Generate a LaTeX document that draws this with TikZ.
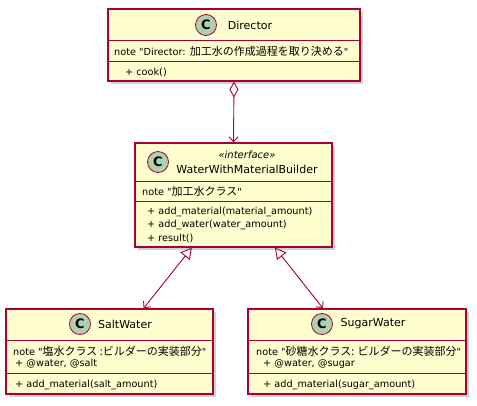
\documentclass[tikz,border=0pt]{standalone}
\usepackage{fontspec}
\setmainfont{DejaVu Sans}[Ligatures=TeXOff]
\newfontfamily\jp{Noto Sans CJK JP}[Ligatures=TeXOff]
\newcommand\ja[1]{{\jp\fontsize{11}{12}\selectfont #1}}
\usepackage{tikz}
\usetikzlibrary{shadows,arrows.meta}
\definecolor{umlfill}{HTML}{FEFECE}
\definecolor{umlline}{HTML}{A80036}
\definecolor{umlcirc}{HTML}{ADD1B2}
\tikzset{>=stealth}
\tikzset{
  classbox/.style={draw=umlline,fill=umlfill,line width=1.2pt,inner sep=0pt,
    drop shadow={shadow xshift=3pt,shadow yshift=-3pt,opacity=0.3,fill=black!60}},
  sepline/.style={umlline,line width=1pt},
  badge/.style={circle,draw=umlline,fill=umlcirc,line width=0.8pt,minimum size=21pt,inner sep=0pt,
    font=\fontsize{13}{13}\selectfont\bfseries},
  classname/.style={inner sep=0pt,font=\fontsize{11}{13}\selectfont},
  member/.style={anchor=west,inner sep=0pt,font=\fontsize{9.7}{12}\selectfont},
  link/.style={umlline,line width=0.9pt}
}

\begin{document}
\begin{tikzpicture}[x=1pt,y=-1pt]
  \useasboundingbox (0,0) rectangle (477,405);

  % class boxes
  \node[classbox,minimum width=252pt,minimum height=72pt] (director) at (234,45) {};
  \node[classbox,minimum width=197pt,minimum height=104pt] (builder) at (233.5,195) {};
  \node[classbox,minimum width=207pt,minimum height=85pt] (salt) at (109.5,351.5) {};
  \node[classbox,minimum width=218pt,minimum height=85pt] (sugar) at (357,351.5) {};

  % compartments
  \draw[sepline] (108,40) -- (360,40) (108,61) -- (360,61);
  \draw[sepline] (135,181) -- (332,181) (135,201) -- (332,201);
  \draw[sepline] (6,340) -- (213,340) (6,373) -- (213,373);
  \draw[sepline] (248,340) -- (466,340) (248,373) -- (466,373);

  % Director
  \node[badge] (dirC) at (206,25) {C};
  \node[classname] (dirName) at (250,25) {Director};
  \node[member] (dirNote) at (114,51) {note "Director: \ja{加工水の作成過程を取り決める}"};
  \node[member] (dirCook) at (125,72) {+ cook()};

  % WaterWithMaterialBuilder
  \node[badge] (bldC) at (158,162) {C};
  \node[classname,font=\fontsize{10}{12}\selectfont\itshape] (bldStereo) at (247,155) {«interface»};
  \node[classname] (bldName) at (247,169) {WaterWithMaterialBuilder};
  \node[member] (bldNote) at (142,191) {note "\ja{加工水クラス}"};
  \node[member] (bldAdd) at (147,212) {+ add\_material(material\_amount)};
  \node[member] (bldWater) at (147,225) {+ add\_water(water\_amount)};
  \node[member] (bldResult) at (147,238) {+ result()};

  % SaltWater
  \node[badge] (saltC) at (80,324) {C};
  \node[classname] (saltName) at (125,324) {SaltWater};
  \node[member] (saltNote) at (13,351) {note "\ja{塩水クラス :ビルダーの実装部分}"};
  \node[member] (saltVars) at (15,364) {+ @water, @salt};
  \node[member] (saltAdd) at (15,385) {+ add\_material(salt\_amount)};

  % SugarWater
  \node[badge] (sugarC) at (322,324) {C};
  \node[classname] (sugarName) at (373,324) {SugarWater};
  \node[member] (sugarNote) at (256,351) {note "\ja{砂糖水クラス: ビルダーの実装部分}"};
  \node[member] (sugarVars) at (263,364) {+ @water, @sugar};
  \node[member] (sugarAdd) at (263,385) {+ add\_material(sugar\_amount)};

  % relations
  \draw[link,{Diamond[open,fill=white,length=16pt,width=9pt]}-{Straight Barb[length=5pt,width=9pt]}]
    (director.south) -- (builder.north);
  \draw[link,{Triangle[open,fill=white,length=11pt,width=12pt]}-{Straight Barb[length=5pt,width=9pt]}]
    (builder) -- (salt);
  \draw[link,{Triangle[open,fill=white,length=11pt,width=12pt]}-{Straight Barb[length=5pt,width=9pt]}]
    (builder) -- (sugar);
\end{tikzpicture}
\end{document}
